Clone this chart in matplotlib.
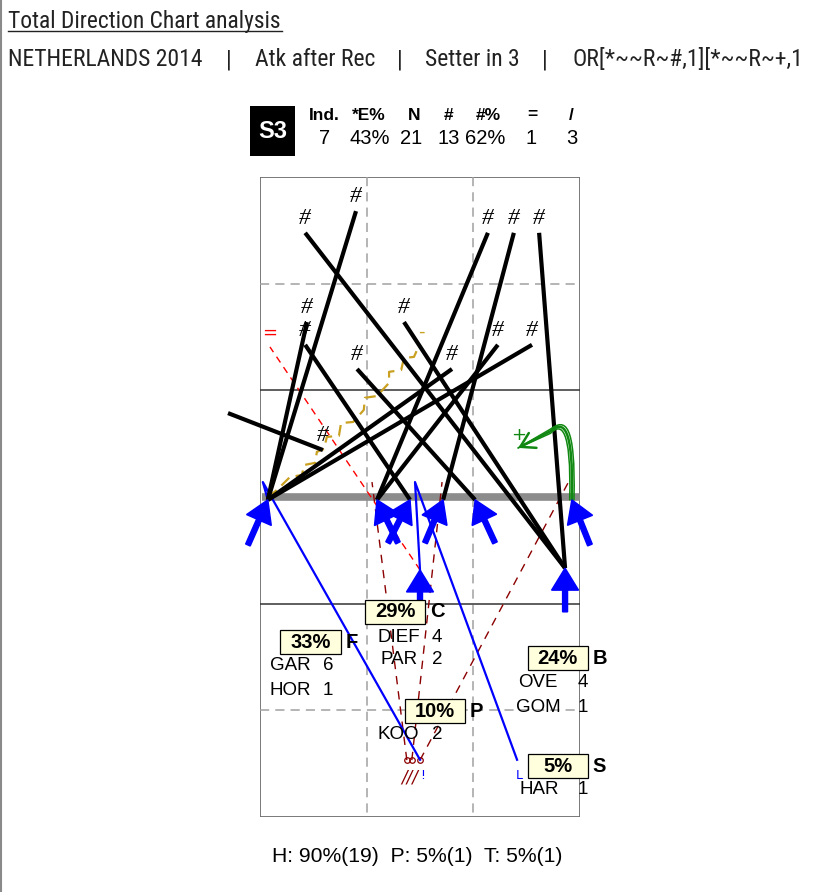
import matplotlib
matplotlib.use('Agg')
import matplotlib.pyplot as plt
from matplotlib import font_manager as fm
from matplotlib.patches import Rectangle, FancyArrowPatch
from matplotlib.lines import Line2D
from matplotlib.path import Path

# ---- data (court metres: x 0..9 left->right, y 0..18 top->bottom, net at 9) ----
title = "Total Direction Chart analysis"
subtitle_parts = ["NETHERLANDS 2014", "|", "Atk after Rec", "|", "Setter in 3", "|",
                  "OR[*~~R~#,1][*~~R~+,1"]
footer = "H: 90%(19)  P: 5%(1)  T: 5%(1)"

rotation = "S3"
stat_cols = ["Ind.", "*E%", "N", "#", "#%", "=", "/"]
stat_vals = ["7", "43%", "21", "13", "62%", "1", "3"]

# attacker arrows: tip (attack start) and tail
arrow_tips = [(0.22, 9.08), (3.29, 9.08), (4.22, 9.08), (5.15, 9.08),
              (6.05, 9.08), (8.77, 9.08), (4.50, 11.05), (8.58, 11.00)]
arrow_tails = [(-0.34, 10.35), (3.88, 10.29), (3.60, 10.29), (4.64, 10.29),
               (6.61, 10.29), (9.28, 10.35), (4.50, 12.04), (8.58, 12.23)]

# winning attacks (#): start -> end
kill_start = [(0.22, 9.08), (8.58, 11.00), (3.29, 9.08), (5.15, 9.08), (8.58, 11.00),
              (0.22, 9.08), (4.22, 9.08), (8.58, 11.00), (6.05, 9.08), (0.22, 9.08),
              (3.29, 9.08), (0.22, 9.08), (-0.90, 6.64)]
kill_end = [(2.70, 0.96), (1.27, 1.57), (6.41, 1.57), (7.14, 1.57), (7.85, 1.57),
            (1.32, 4.08), (1.27, 4.72), (4.05, 4.08), (2.73, 5.40), (5.40, 5.40),
            (6.69, 4.72), (7.65, 4.72), (1.77, 7.68)]

# error attack (=)
error_line = [(4.50, 11.05), (0.28, 4.78)]

# poor attack (-), drawn as a staircase
poor_x = [0.22, 0.48, 0.84, 1.18, 1.24, 1.55, 1.60, 1.80, 1.88, 2.22, 2.28,
          2.62, 2.92, 2.95, 3.29, 3.63, 3.63, 3.97, 4.05, 4.33, 4.47]
poor_y = [9.00, 8.80, 8.44, 8.38, 8.10, 8.04, 7.73, 7.65, 7.31, 7.28, 6.92,
          6.89, 6.55, 6.21, 6.16, 5.79, 5.48, 5.43, 5.09, 5.06, 4.75]

# positive attack (+), curved
plus_start = (8.77, 9.08)
plus_end = (7.26, 7.62)

# blocked-back attacks (blue)
block_lines = [[(0.22, 9.08), (0.08, 8.58), (4.50, 16.39)],
               [(4.50, 11.05), (4.36, 8.58), (7.23, 16.39)]]
block_marks = ["!", "L"]

# blocked attacks (/)
slash_start = [(4.13, 16.40), (4.27, 16.40), (4.50, 16.40)]
slash_end = [(3.15, 8.58), (5.12, 8.58), (8.66, 8.61)]

# zones
zone_codes = ["F", "C", "B", "P", "S"]
zone_pct = ["33%", "29%", "24%", "10%", "5%"]
zone_players = [["GAR", "HOR"], ["DIEF", "PAR"], ["OVE", "GOM"], ["KOO"], ["HAR"]]
zone_counts = [[6, 1], [4, 2], [4, 1], [2], [1]]
zone_box_xy = [(1.42, 13.09), (3.80, 12.23), (8.37, 13.54), (4.91, 15.02), (8.37, 16.57)]
zone_name_x = [0.84, 3.91, 7.82, 3.88, 7.85]
zone_count_x = [1.91, 4.98, 9.08, 4.98, 9.08]
zone_row_y = [[13.75, 14.43], [12.94, 13.58], [14.23, 14.91], [15.69], [17.22]]

# ---- figure ----
W, H = 834, 892
fig = plt.figure(figsize=(W / 100, H / 100), dpi=100)
fig.patch.set_facecolor('white')
renderer = fig.canvas.get_renderer()


def fx(px):
    return px / W


def fy(py):
    return 1 - py / H


sans = 'Liberation Sans'
installed = {f.name for f in fm.fontManager.ttflist}
narrow = sans
for cand in ['Liberation Sans Narrow', 'Arial Narrow', 'Roboto Condensed',
             'Open Sans Condensed', 'Noto Sans Condensed', 'DejaVu Sans Condensed']:
    if cand in installed:
        narrow = cand
        break


def fit_size(s, target_w, family, size=16):
    t = fig.text(0, 0, s, family=family, fontsize=size)
    w = t.get_window_extent(renderer=renderer).width
    t.remove()
    return size * target_w / w


fig.add_artist(Line2D([0.0015, 0.0015], [0, 1], color='#8a8a8a', lw=1.5))
ts = fit_size(title, 274, narrow)
fig.text(fx(8), fy(28), title, family=narrow, fontsize=ts, color='#222222', va='baseline')
fig.add_artist(Line2D([fx(8), fx(282)], [fy(31), fy(31)], color='#222222', lw=1))
ss = fit_size(subtitle_parts[0], 195, narrow)
part_x = [8, 229, 255, 400, 425, 545, 572]
for part, px_ in zip(subtitle_parts, part_x):
    ha = 'center' if part == "|" else 'left'
    fig.text(fx(px_), fy(66), part, family=narrow, fontsize=ss, color='#222222',
             va='baseline', ha=ha)

# header block
fig.add_artist(Rectangle((fx(250), fy(156)), 45 / W, 50 / H, transform=fig.transFigure,
                         facecolor='black', edgecolor='none'))
fig.text(fx(272.5), fy(132), rotation, color='white', fontsize=17, weight='bold',
         family=sans, ha='center', va='center')
col_x = [324, 369, 414, 449, 488, 532, 571]
val_x = [325, 370, 411, 449, 485, 531, 572]
for c, v, cx, vx in zip(stat_cols, stat_vals, col_x, val_x):
    fig.text(fx(cx), fy(115), c, fontsize=12.5, weight='bold', family=sans, ha='center', va='center')
    fig.text(fx(vx), fy(139), v, fontsize=14.5, family=sans, ha='center', va='center')

fig.text(fx(417), fy(857), footer, fontsize=15.2, family=sans, ha='center', va='center')

# court axes
ax = fig.add_axes([fx(260), fy(817), 320 / W, 640 / H])
ax.set_xlim(0, 9)
ax.set_ylim(18, 0)
ax.axis('off')

ax.add_patch(Rectangle((0, 0), 9, 18, fill=False, ec='#6e6e6e', lw=1.3, zorder=1))
for v in (3, 6):
    ax.plot([v, v], [0, 18], ls=(0, (6, 4)), color='#a0a0a0', lw=1.1, zorder=1)
for v in (3, 15):
    ax.plot([0, 9], [v, v], ls=(0, (6, 4)), color='#a0a0a0', lw=1.1, zorder=1)
for v in (6, 12):
    ax.plot([0, 9], [v, v], color='#333333', lw=1.1, zorder=1)
ax.plot([0.05, 9.05], [9, 9], color='#8c8c8c', lw=5.5, solid_capstyle='butt', zorder=2)

# blocked (/) dashed lines
for (x0, y0), (x1, y1) in zip(slash_start, slash_end):
    ax.plot([x0, x1], [y0, y1], ls=(0, (6, 5)), color='#8b0000', lw=1, zorder=3, clip_on=False)
    ax.plot([x0], [y0], marker='o', ms=4, mfc='none', mec='#8b0000', mew=0.9, zorder=3)
ax.text(4.22, 16.88, "///", color='#8b0000', fontsize=12, family='DejaVu Sans',
        ha='center', va='center', style='italic')

# blue blocked-back lines
for pts, mk in zip(block_lines, block_marks):
    xs, ys = zip(*pts)
    ax.plot(xs, ys, color='blue', lw=1.6, zorder=4, clip_on=False)
    ax.text(pts[-1][0] + 0.06, pts[-1][1] + 0.45, mk, color='blue', fontsize=9,
            family='DejaVu Sans', ha='center', va='center')

# error line
ax.plot(*zip(*error_line), ls=(0, (5, 4)), color='red', lw=1, zorder=3, clip_on=False)
ax.annotate("=", xy=error_line[1], xytext=(0, 10), textcoords='offset points',
            color='red', fontsize=13, ha='center', va='center')

# poor attack staircase
ax.plot(poor_x, poor_y, ls=(0, (5, 3)), color='#c9a020', lw=1.6, zorder=3, clip_on=False)
ax.annotate("-", xy=(poor_x[-1], poor_y[-1]), xytext=(2, 10), textcoords='offset points',
            color='#c9a020', fontsize=13, ha='center', va='center')

# kill lines
for (x0, y0), (x1, y1) in zip(kill_start, kill_end):
    ax.plot([x0, x1], [y0, y1], color='black', lw=3, solid_capstyle='butt', zorder=5, clip_on=False)
    ax.annotate("#", xy=(x1, y1), xytext=(0, 10.5), textcoords='offset points', ha='center',
                va='center', fontsize=17, style='italic', family='Liberation Serif', zorder=6)

# positive attack curve (triple stroke)
sx, sy = plus_start
ex, ey = plus_end
for k, d in enumerate((-0.06, 0.0, 0.06)):
    verts = [(sx + d, sy), (sx + 0.05 + d, 6.95 - d), (sx - 0.25 + d, 6.85 - d),
             (sx - 0.6, 7.15 - d), (ex, ey)]
    codes = [Path.MOVETO, Path.CURVE4, Path.CURVE4, Path.CURVE4, Path.LINETO]
    style = '->,head_length=0.5,head_width=0.3' if k == 1 else '-'
    ax.add_patch(FancyArrowPatch(path=Path(verts, codes), arrowstyle=style, mutation_scale=20,
                                 color='#118811', lw=1.1 if k != 1 else 1.8, zorder=6,
                                 clip_on=False))
ax.annotate("+", xy=plus_end, xytext=(0, 9), textcoords='offset points', color='#118811',
            fontsize=13, ha='center', va='center')

# attacker arrows
for (tx, ty), (bx, by) in zip(arrow_tips, arrow_tails):
    ax.arrow(bx, by, tx - bx, ty - by, width=0.14, head_width=0.76, head_length=0.62,
             length_includes_head=True, color='blue', zorder=7, clip_on=False)

# zone labels
bw, bh = 1.69, 0.675
for code, pct, players, counts, (cx, cy), nx, kx, rows in zip(
        zone_codes, zone_pct, zone_players, zone_counts, zone_box_xy,
        zone_name_x, zone_count_x, zone_row_y):
    ax.add_patch(Rectangle((cx - bw / 2, cy - bh / 2), bw, bh, facecolor='#ffffdd',
                           edgecolor='black', lw=0.9, zorder=8, clip_on=False))
    ax.text(cx, cy, pct, fontsize=14.5, weight='bold', family=sans, ha='center',
            va='center', zorder=9)
    ax.text(cx + bw / 2 + 0.14, cy, code, fontsize=14.5, weight='bold', family=sans,
            ha='left', va='center', zorder=9, clip_on=False)
    for name, n, ry in zip(players, counts, rows):
        ax.text(nx, ry, name, fontsize=13.5, family=sans, ha='center', va='center', zorder=9)
        ax.text(kx, ry, str(n), fontsize=13.5, family=sans, ha='center', va='center',
                zorder=9, clip_on=False)

fig.savefig('out.png', dpi=100, facecolor='white')
